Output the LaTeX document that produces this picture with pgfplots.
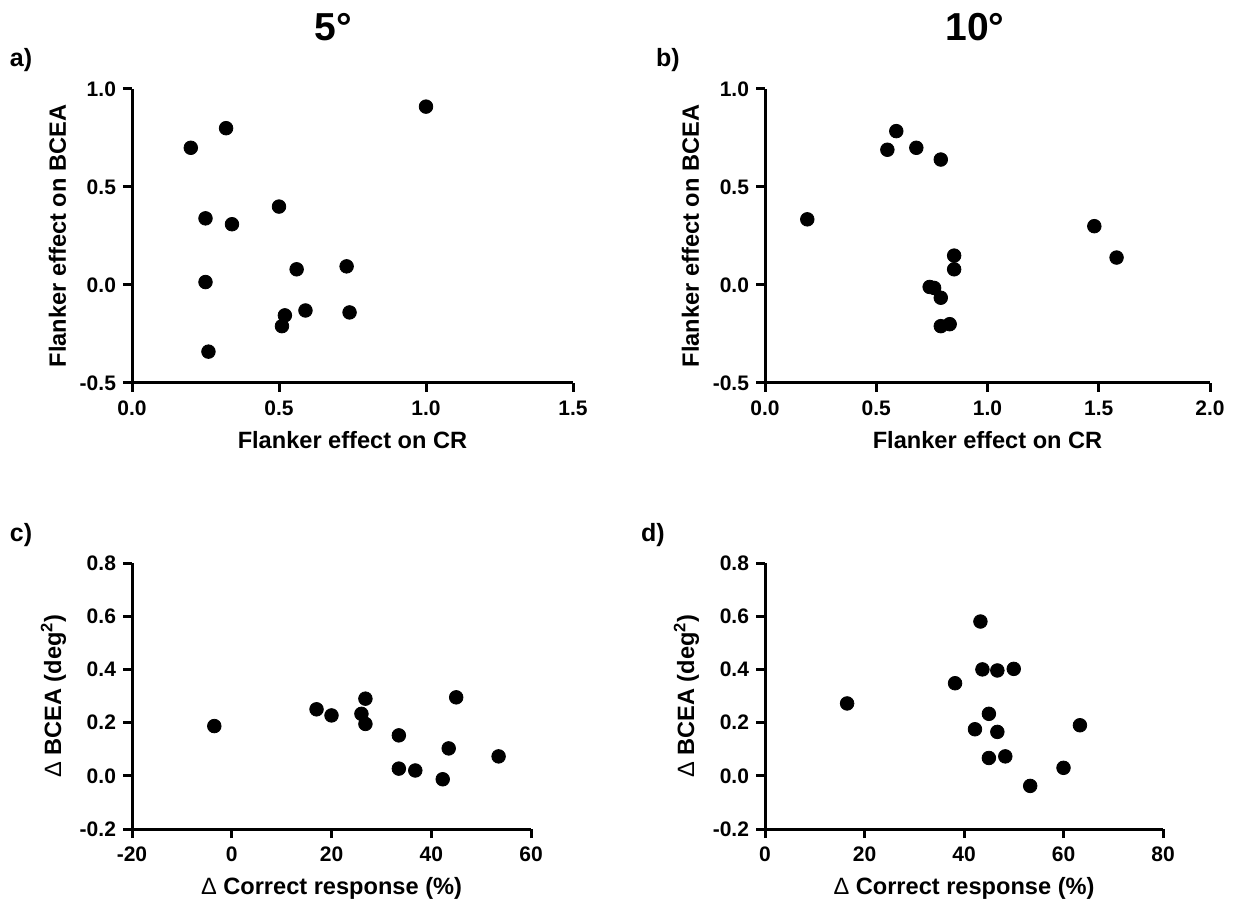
\documentclass[border=0pt]{standalone}
\usepackage{fontspec}
\setmainfont{Liberation Sans}
\usepackage{pgfplots}
\pgfplotsset{compat=1.18}
\pgfplotstableread{
x y
0.20 0.70
0.32 0.80
1.00 0.91
0.25 0.34
0.34 0.31
0.50 0.40
0.25 0.015
0.56 0.08
0.73 0.095
0.52 -0.155
0.51 -0.21
0.59 -0.13
0.74 -0.14
0.26 -0.34
}\dataA
\pgfplotstableread{
x y
0.19 0.335
0.55 0.69
0.59 0.785
0.68 0.70
0.79 0.64
1.48 0.30
1.58 0.14
0.85 0.15
0.85 0.08
0.74 -0.01
0.76 -0.015
0.79 -0.065
0.79 -0.21
0.83 -0.20
}\dataB
\pgfplotstableread{
x y
-3.5 0.187
17 0.25
20 0.227
26 0.233
26.8 0.29
26.8 0.195
33.5 0.152
45 0.295
43.5 0.103
53.5 0.073
33.5 0.027
36.8 0.02
42.3 -0.013
}\dataC
\pgfplotstableread{
x y
16.5 0.272
38.2 0.348
43.3 0.58
43.7 0.40
46.7 0.396
50 0.402
45 0.233
42.2 0.175
46.7 0.165
45 0.067
48.3 0.073
53.3 -0.038
60 0.03
63.3 0.19
}\dataD
\pgfplotsset{
  prism/.style={
    scale only axis,
    anchor=south west,
    axis x line*=bottom,
    axis y line*=left,
    major tick length=4.5pt,
    tick align=outside,
    minor tick num=0,
    clip=false,
    tick label style={font=\fontsize{10.5}{12}\selectfont\bfseries},
    xticklabel style={yshift=-1pt},
    label style={font=\fontsize{11.8}{14}\selectfont\bfseries},
    xlabel style={yshift=-1pt},
  },
  one/.style={
    xticklabel style={/pgf/number format/.cd,fixed,fixed zerofill,precision=1},
    yticklabel style={/pgf/number format/.cd,fixed,fixed zerofill,precision=1},
  },
  dots/.style={only marks, mark=*, mark size=3.4pt, black, line width=0.4pt, mark options={fill=black,draw=black}},
}
\begin{document}
\begin{tikzpicture}
\useasboundingbox (0,0) rectangle (617pt,451.5pt);
\node[font=\fontsize{19.5}{22}\selectfont\bfseries] at (166.5pt,438pt) {5°};
\node[font=\fontsize{19.5}{22}\selectfont\bfseries] at (487.5pt,438pt) {10°};
\node[font=\fontsize{12.5}{14}\selectfont\bfseries] at (10.5pt,421.5pt) {a)};
\node[font=\fontsize{12.5}{14}\selectfont\bfseries] at (334pt,421.5pt) {b)};
\node[font=\fontsize{12.5}{14}\selectfont\bfseries] at (10.5pt,184pt) {c)};
\node[font=\fontsize{12.5}{14}\selectfont\bfseries] at (326.5pt,184pt) {d)};
% a
\begin{axis}[prism, one, at={(66pt,260pt)}, width=220.5pt, height=147pt,
  axis line style={line width=1.5pt}, major tick style={line width=1.5pt, black},
  /pgf/number format/assume math mode=true,
  xmin=0, xmax=1.5, ymin=-0.5, ymax=1.0,
  xtick={0,0.5,1.0,1.5}, ytick={-0.5,0,0.5,1.0},
  xlabel={Flanker effect on CR}, ylabel={Flanker effect on BCEA}]
\addplot[dots] table {\dataA};
\end{axis}
% b
\begin{axis}[prism, one, at={(382.5pt,260pt)}, width=222.5pt, height=147pt,
  axis line style={line width=1.5pt}, major tick style={line width=1.5pt, black},
  /pgf/number format/assume math mode=true,
  xmin=0, xmax=2.0, ymin=-0.5, ymax=1.0,
  xtick={0,0.5,1.0,1.5,2.0}, ytick={-0.5,0,0.5,1.0},
  xlabel={Flanker effect on CR}, ylabel={Flanker effect on BCEA}]
\addplot[dots] table {\dataB};
\end{axis}
% c
\begin{axis}[prism, at={(66pt,37pt)}, width=199.5pt, height=133pt,
  axis line style={line width=1.5pt}, major tick style={line width=1.5pt, black},
  /pgf/number format/assume math mode=true,
  xmin=-20, xmax=60, ymin=-0.2, ymax=0.8,
  xtick={-20,0,20,40,60}, ytick={-0.2,0,0.2,0.4,0.6,0.8},
  yticklabel style={/pgf/number format/.cd,fixed,fixed zerofill,precision=1},
  xlabel={{\mdseries Δ} Correct response (\%)}, ylabel={{\mdseries Δ} BCEA (deg\textsuperscript{2})}]
\addplot[dots] table {\dataC};
\end{axis}
% d
\begin{axis}[prism, at={(382.5pt,37pt)}, width=199pt, height=133pt,
  axis line style={line width=1.5pt}, major tick style={line width=1.5pt, black},
  /pgf/number format/assume math mode=true,
  xmin=0, xmax=80, ymin=-0.2, ymax=0.8,
  xtick={0,20,40,60,80}, ytick={-0.2,0,0.2,0.4,0.6,0.8},
  yticklabel style={/pgf/number format/.cd,fixed,fixed zerofill,precision=1},
  xlabel={{\mdseries Δ} Correct response (\%)}, ylabel={{\mdseries Δ} BCEA (deg\textsuperscript{2})}]
\addplot[dots] table {\dataD};
\end{axis}
\end{tikzpicture}
\end{document}
